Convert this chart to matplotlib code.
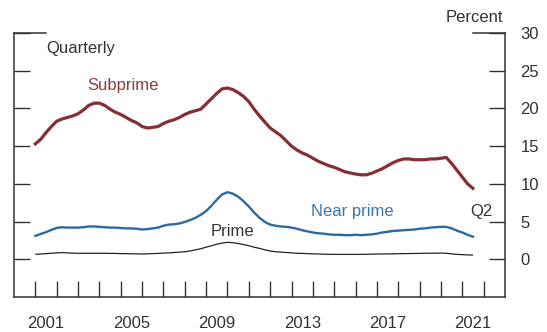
#!/usr/bin/env python3
import numpy as np
import pandas as pd
import matplotlib

matplotlib.use("Agg")
matplotlib.rcParams["font.family"] = ["Liberation Sans", "DejaVu Sans"]
matplotlib.rcParams["font.size"] = 12

import matplotlib.pyplot as plt

SUBPRIME_COLOR = "#862E33"
SUBPRIME_TEXT = "#8E3B41"
NEAR_COLOR = "#2D68A0"
NEAR_TEXT = "#3A76AE"
PRIME_COLOR = "#222222"
AXIS_COLOR = "#333333"
TEXT_COLOR = "#333333"

# Quarterly, 2000:Q4 - 2021:Q2 (plotted at quarter end)
QUARTERS = pd.period_range("2000Q4", "2021Q2", freq="Q")

subprime = [
    15.3,
    15.9, 16.8, 17.6, 18.3,
    18.6, 18.8, 19.0, 19.3,
    19.8, 20.4, 20.7, 20.7,
    20.4, 19.9, 19.5, 19.2,
    18.8, 18.4, 18.1, 17.6,
    17.4, 17.5, 17.6, 18.0,
    18.3, 18.5, 18.8, 19.2,
    19.5, 19.7, 19.9, 20.6,
    21.3, 22.0, 22.6, 22.7,
    22.5, 22.1, 21.6, 20.9,
    19.9, 19.0, 18.2, 17.4,
    16.9, 16.4, 15.7, 15.0,
    14.5, 14.1, 13.8, 13.4,
    13.0, 12.7, 12.4, 12.2,
    11.9, 11.6, 11.45, 11.3,
    11.2, 11.2, 11.4, 11.7,
    12.0, 12.4, 12.8, 13.1,
    13.3, 13.3, 13.2, 13.2,
    13.2, 13.3, 13.3, 13.4,
    13.5, 12.7, 11.8, 10.9,
    10.0, 9.4,
]

near_prime = [
    3.1,
    3.35, 3.6, 3.9, 4.15,
    4.25, 4.2, 4.2, 4.2,
    4.25, 4.35, 4.35, 4.3,
    4.25, 4.2, 4.2, 4.15,
    4.1, 4.1, 4.05, 3.95,
    4.0, 4.1, 4.2, 4.45,
    4.6, 4.65, 4.75, 4.95,
    5.2, 5.5, 5.9, 6.4,
    7.1, 7.9, 8.6, 8.9,
    8.7, 8.3, 7.7, 7.0,
    6.2, 5.5, 4.95, 4.6,
    4.45, 4.35, 4.3, 4.2,
    4.05, 3.85, 3.7, 3.55,
    3.45, 3.4, 3.3, 3.25,
    3.25, 3.2, 3.2, 3.25,
    3.2, 3.25, 3.3, 3.4,
    3.55, 3.65, 3.75, 3.8,
    3.85, 3.9, 3.95, 4.05,
    4.1, 4.2, 4.25, 4.3,
    4.3, 4.1, 3.8, 3.55,
    3.25, 3.0,
]

prime = [
    0.65,
    0.7, 0.75, 0.8, 0.85,
    0.88, 0.85, 0.82, 0.8,
    0.8, 0.8, 0.8, 0.8,
    0.8, 0.78, 0.78, 0.75,
    0.75, 0.72, 0.72, 0.7,
    0.72, 0.75, 0.78, 0.82,
    0.85, 0.9, 0.95, 1.0,
    1.1, 1.25, 1.4, 1.6,
    1.8, 2.0, 2.15, 2.25,
    2.2, 2.1, 1.95, 1.8,
    1.6, 1.45, 1.25, 1.1,
    1.0, 0.95, 0.9, 0.85,
    0.8, 0.78, 0.75, 0.72,
    0.7, 0.68, 0.66, 0.65,
    0.65, 0.65, 0.65, 0.65,
    0.65, 0.66, 0.68, 0.7,
    0.7, 0.72, 0.72, 0.74,
    0.75, 0.76, 0.77, 0.78,
    0.8, 0.8, 0.82, 0.82,
    0.8, 0.72, 0.65, 0.62,
    0.58, 0.56,
]

year_labels = ["2001", "2005", "2009", "2013", "2017", "2021"]
y_ticks = [0, 5, 10, 15, 20, 25, 30]


def quarter_end(periods):
    return np.array([p.year + p.quarter / 4.0 for p in periods])


def main():
    x = quarter_end(QUARTERS)

    fig = plt.figure(figsize=(5.47, 3.32), dpi=100)
    ax = fig.add_axes([0.0256, 0.1054, 0.8976, 0.7952])

    ax.plot(x, prime, color=PRIME_COLOR, lw=0.9, solid_capstyle="butt")
    ax.plot(x, near_prime, color=NEAR_COLOR, lw=1.7)
    ax.plot(x, subprime, color=SUBPRIME_COLOR, lw=2.3)

    ax.set_xlim(2000, 2023)
    ax.set_ylim(-5, 30)

    # spines
    ax.spines["top"].set_visible(False)
    for side in ("left", "right", "bottom"):
        ax.spines[side].set_color(AXIS_COLOR)
        ax.spines[side].set_linewidth(1.1)

    # x: year ticks at boundaries, labels in the middle of the year
    ax.set_xticks(np.arange(2001, 2023))
    ax.set_xticklabels([])
    ax.set_xticks([int(y) + 0.5 for y in year_labels], minor=True)
    ax.set_xticklabels(year_labels, minor=True, color=TEXT_COLOR)
    ax.tick_params(axis="x", which="major", direction="in", length=11.5,
                   width=1.0, color=AXIS_COLOR)
    ax.tick_params(axis="x", which="minor", length=0, pad=14, labelsize=12)

    # y: ticks both sides, labels right
    ax.set_yticks(y_ticks)
    ax.yaxis.set_ticks_position("both")
    ax.tick_params(axis="y", direction="in", length=11.5, width=1.0,
                   color=AXIS_COLOR, labelleft=False, labelright=True,
                   pad=11, labelcolor=TEXT_COLOR, labelsize=12)
    ax.axhline(30, xmin=0, xmax=32 / 491, color=AXIS_COLOR, lw=1.1, clip_on=False)
    ax.axhline(30, xmin=1 - 32 / 491, xmax=1, color=AXIS_COLOR, lw=1.1, clip_on=False)

    # annotations
    ax.text(2001.52, 27.9, "Quarterly", color=TEXT_COLOR, fontsize=12,
            ha="left", va="center")
    ax.text(2005.1, 23.0, "Subprime", color=SUBPRIME_TEXT, fontsize=12,
            ha="center", va="center")
    ax.text(2015.84, 6.3, "Near prime", color=NEAR_TEXT, fontsize=12,
            ha="center", va="center")
    ax.text(2010.24, 3.66, "Prime", color=TEXT_COLOR, fontsize=12,
            ha="center", va="center")
    ax.text(2021.9, 6.3, "Q2", color=TEXT_COLOR, fontsize=12,
            ha="center", va="center")
    fig.text(503 / 547, 1 - 18 / 332, "Percent", color=TEXT_COLOR, fontsize=12,
             ha="right", va="center")

    fig.savefig("out.png", dpi=100)
    plt.close(fig)


if __name__ == "__main__":
    main()
